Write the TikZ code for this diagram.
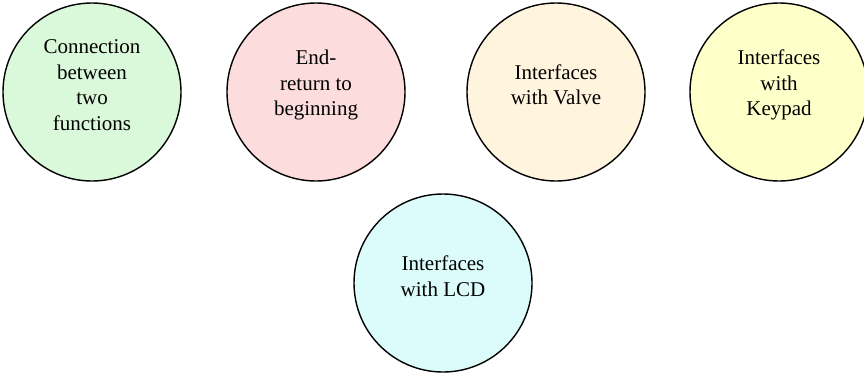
\documentclass[tikz,border=0pt]{standalone}
\usepackage{fontspec}
\setmainfont{Liberation Serif}
\definecolor{cgreen}{HTML}{DAF9DA}
\definecolor{cpink}{HTML}{FCDCDC}
\definecolor{ccream}{HTML}{FFF4DE}
\definecolor{cyellow}{HTML}{FFFFCA}
\definecolor{ccyan}{HTML}{DCFCFC}
\tikzset{
  bubble/.style={circle, draw=black, line width=1.4pt, minimum size=178pt, inner sep=0pt},
  btext/.style={align=center, font=\fontsize{21pt}{25.5pt}\selectfont, yshift=7pt, inner sep=0pt}
}
\begin{document}
\begin{tikzpicture}[x=1pt,y=-1pt]
\useasboundingbox (0,0) rectangle (864,373);
\node[bubble, fill=cgreen] (c1) at (92,92) {};
\node[btext] (t1) at (c1) {Connection\\between\\two\\functions};
\node[bubble, fill=cpink] (c2) at (316,92) {};
\node[btext] (t2) at (c2) {End-\\return to\\beginning};
\node[bubble, fill=ccream] (c3) at (556,92) {};
\node[btext] (t3) at (c3) {Interfaces\\with Valve};
\node[bubble, fill=cyellow] (c4) at (779,92) {};
\node[btext] (t4) at (c4) {Interfaces\\with\\Keypad};
\node[bubble, fill=ccyan] (c5) at (443,283) {};
\node[btext] (t5) at (c5) {Interfaces\\with LCD};
\end{tikzpicture}
\end{document}
